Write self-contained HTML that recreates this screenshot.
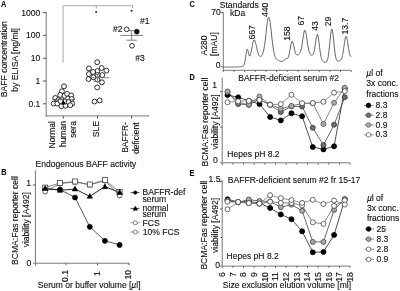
<!DOCTYPE html>
<html><head><meta charset="utf-8"><style>
html,body{margin:0;padding:0;background:#fff;}
svg{display:block;font-family:"Liberation Sans", sans-serif;filter:blur(0.3px);}
text{stroke:#111;stroke-width:0.12px;}
</style></head><body>
<svg width="400" height="291" viewBox="0 0 400 291">
<rect width="400" height="291" fill="#fff"/>
<text transform="translate(1.0,6.8) scale(0.88,1)" font-size="8.3" font-weight="bold" fill="#111">A</text>
<line x1="63.1" y1="5.7" x2="63.1" y2="62.5" stroke="#a0a0a0" stroke-width="0.9"/>
<line x1="63.1" y1="5.7" x2="132.5" y2="5.7" stroke="#a0a0a0" stroke-width="0.9"/>
<line x1="96.3" y1="5.7" x2="96.3" y2="8.5" stroke="#a0a0a0" stroke-width="0.9"/>
<line x1="132.5" y1="5.7" x2="132.5" y2="8" stroke="#a0a0a0" stroke-width="0.9"/>
<circle cx="96.1" cy="12" r="1.0" fill="#222" stroke="none" stroke-width="0"/>
<circle cx="131.5" cy="10.8" r="1.0" fill="#222" stroke="none" stroke-width="0"/>
<line x1="46.2" y1="12.2" x2="46.2" y2="116.5" stroke="#787878" stroke-width="1.0"/>
<line x1="45.7" y1="115.9" x2="149" y2="115.9" stroke="#787878" stroke-width="1.0"/>
<line x1="42.9" y1="12.6" x2="46.2" y2="12.6" stroke="#444" stroke-width="0.9"/>
<text x="40.4" y="15.6" font-size="8.6" text-anchor="end" font-weight="normal" fill="#111" >1000</text>
<line x1="42.9" y1="35.4" x2="46.2" y2="35.4" stroke="#444" stroke-width="0.9"/>
<text x="40.4" y="38.4" font-size="8.6" text-anchor="end" font-weight="normal" fill="#111" >100</text>
<line x1="42.9" y1="58.2" x2="46.2" y2="58.2" stroke="#444" stroke-width="0.9"/>
<text x="40.4" y="61.2" font-size="8.6" text-anchor="end" font-weight="normal" fill="#111" >10</text>
<line x1="42.9" y1="81.0" x2="46.2" y2="81.0" stroke="#444" stroke-width="0.9"/>
<text x="40.4" y="84.0" font-size="8.6" text-anchor="end" font-weight="normal" fill="#111" >1</text>
<line x1="42.9" y1="103.8" x2="46.2" y2="103.8" stroke="#444" stroke-width="0.9"/>
<text x="40.4" y="106.8" font-size="8.6" text-anchor="end" font-weight="normal" fill="#111" >0.1</text>
<line x1="63.3" y1="115.9" x2="63.3" y2="118.7" stroke="#444" stroke-width="0.9"/>
<line x1="97.4" y1="115.9" x2="97.4" y2="118.7" stroke="#444" stroke-width="0.9"/>
<line x1="131.6" y1="115.9" x2="131.6" y2="118.7" stroke="#444" stroke-width="0.9"/>
<text transform="translate(7.3,59.2) rotate(-90)" font-size="8.65" text-anchor="middle" font-weight="normal" fill="#111" >BAFF concentration</text>
<text transform="translate(18.4,59.9) rotate(-90)" font-size="8.65" text-anchor="middle" font-weight="normal" fill="#111" >by ELISA [ng/ml]</text>
<text transform="translate(54.6,121.1) rotate(-90)" font-size="8.5" text-anchor="end" font-weight="normal" fill="#111" >Normal</text>
<text transform="translate(65.6,121.1) rotate(-90)" font-size="8.5" text-anchor="end" font-weight="normal" fill="#111" >human</text>
<text transform="translate(76.2,121.1) rotate(-90)" font-size="8.5" text-anchor="end" font-weight="normal" fill="#111" >sera</text>
<text transform="translate(99.3,121.1) rotate(-90)" font-size="8.5" text-anchor="end" font-weight="normal" fill="#111" >SLE</text>
<text transform="translate(127.6,122.1) rotate(-90)" font-size="8.5" text-anchor="end" font-weight="normal" fill="#111" >BAFFR-</text>
<text transform="translate(138.6,122.3) rotate(-90)" font-size="8.5" text-anchor="end" font-weight="normal" fill="#111" >deficient</text>
<circle cx="64" cy="86.3" r="2.45" fill="#fff" stroke="#1a1a1a" stroke-width="0.9"/>
<circle cx="61.9" cy="91.3" r="2.45" fill="#fff" stroke="#1a1a1a" stroke-width="0.9"/>
<circle cx="60.2" cy="94.9" r="2.45" fill="#fff" stroke="#1a1a1a" stroke-width="0.9"/>
<circle cx="64.5" cy="95.9" r="2.45" fill="#fff" stroke="#1a1a1a" stroke-width="0.9"/>
<circle cx="67.1" cy="93.9" r="2.45" fill="#fff" stroke="#1a1a1a" stroke-width="0.9"/>
<circle cx="71.2" cy="95.4" r="2.45" fill="#fff" stroke="#1a1a1a" stroke-width="0.9"/>
<circle cx="55.2" cy="98" r="2.45" fill="#fff" stroke="#1a1a1a" stroke-width="0.9"/>
<circle cx="58.3" cy="100" r="2.45" fill="#fff" stroke="#1a1a1a" stroke-width="0.9"/>
<circle cx="68.1" cy="98.5" r="2.45" fill="#fff" stroke="#1a1a1a" stroke-width="0.9"/>
<circle cx="71.7" cy="99" r="2.45" fill="#fff" stroke="#1a1a1a" stroke-width="0.9"/>
<circle cx="53.7" cy="103.6" r="2.45" fill="#fff" stroke="#1a1a1a" stroke-width="0.9"/>
<circle cx="57.3" cy="103.6" r="2.45" fill="#fff" stroke="#1a1a1a" stroke-width="0.9"/>
<circle cx="61.4" cy="106.2" r="2.45" fill="#fff" stroke="#1a1a1a" stroke-width="0.9"/>
<circle cx="65.5" cy="105.7" r="2.45" fill="#fff" stroke="#1a1a1a" stroke-width="0.9"/>
<circle cx="68.6" cy="102.1" r="2.45" fill="#fff" stroke="#1a1a1a" stroke-width="0.9"/>
<circle cx="72.2" cy="103.6" r="2.45" fill="#fff" stroke="#1a1a1a" stroke-width="0.9"/>
<circle cx="70.2" cy="105.2" r="2.45" fill="#fff" stroke="#1a1a1a" stroke-width="0.9"/>
<circle cx="60.5" cy="101" r="2.45" fill="#fff" stroke="#1a1a1a" stroke-width="0.9"/>
<circle cx="97.2" cy="62.2" r="2.45" fill="#fff" stroke="#1a1a1a" stroke-width="0.9"/>
<circle cx="88.9" cy="68.4" r="2.45" fill="#fff" stroke="#1a1a1a" stroke-width="0.9"/>
<circle cx="97.4" cy="71.1" r="2.45" fill="#fff" stroke="#1a1a1a" stroke-width="0.9"/>
<circle cx="101.7" cy="68" r="2.45" fill="#fff" stroke="#1a1a1a" stroke-width="0.9"/>
<circle cx="106.4" cy="70.6" r="2.45" fill="#fff" stroke="#1a1a1a" stroke-width="0.9"/>
<circle cx="88.9" cy="74" r="2.45" fill="#fff" stroke="#1a1a1a" stroke-width="0.9"/>
<circle cx="93" cy="72" r="2.45" fill="#fff" stroke="#1a1a1a" stroke-width="0.9"/>
<circle cx="97.4" cy="75.1" r="2.45" fill="#fff" stroke="#1a1a1a" stroke-width="0.9"/>
<circle cx="102.3" cy="75.1" r="2.45" fill="#fff" stroke="#1a1a1a" stroke-width="0.9"/>
<circle cx="88.5" cy="79.1" r="2.45" fill="#fff" stroke="#1a1a1a" stroke-width="0.9"/>
<circle cx="93.4" cy="77.3" r="2.45" fill="#fff" stroke="#1a1a1a" stroke-width="0.9"/>
<circle cx="97.4" cy="79.6" r="2.45" fill="#fff" stroke="#1a1a1a" stroke-width="0.9"/>
<circle cx="101.9" cy="82.3" r="2.45" fill="#fff" stroke="#1a1a1a" stroke-width="0.9"/>
<circle cx="97.2" cy="87.4" r="2.45" fill="#fff" stroke="#1a1a1a" stroke-width="0.9"/>
<circle cx="94.5" cy="101.5" r="2.45" fill="#fff" stroke="#1a1a1a" stroke-width="0.9"/>
<circle cx="99.7" cy="100.4" r="2.45" fill="#fff" stroke="#1a1a1a" stroke-width="0.9"/>
<line x1="52.5" y1="99.6" x2="75" y2="99.6" stroke="#666" stroke-width="0.9"/>
<line x1="63.5" y1="97.5" x2="63.5" y2="104.5" stroke="#444" stroke-width="0.9"/>
<polygon points="63.6,100.3 61.4,104.4 65.8,104.4" fill="#000"/>
<line x1="91" y1="77.8" x2="109.5" y2="77.8" stroke="#777" stroke-width="0.9"/>
<line x1="97.4" y1="74.5" x2="97.4" y2="81.5" stroke="#777" stroke-width="0.9"/>
<line x1="94" y1="74.5" x2="101" y2="74.5" stroke="#777" stroke-width="0.9"/>
<line x1="94" y1="81.5" x2="101" y2="81.5" stroke="#777" stroke-width="0.9"/>
<line x1="120.3" y1="35.4" x2="143" y2="35.4" stroke="#777" stroke-width="0.9"/>
<line x1="131.6" y1="30.6" x2="131.6" y2="40.2" stroke="#777" stroke-width="0.9"/>
<line x1="129" y1="30.6" x2="134.5" y2="30.6" stroke="#777" stroke-width="0.9"/>
<line x1="126.5" y1="40.2" x2="136.8" y2="40.2" stroke="#777" stroke-width="0.9"/>
<circle cx="126.7" cy="29.3" r="2.35" fill="#fff" stroke="#1a1a1a" stroke-width="0.9"/>
<circle cx="136.8" cy="31.7" r="2.4" fill="#000" stroke="#000" stroke-width="0.7"/>
<circle cx="132" cy="45.8" r="2.35" fill="#fff" stroke="#1a1a1a" stroke-width="0.9"/>
<text x="140.1" y="23.7" font-size="8.6" text-anchor="start" font-weight="normal" fill="#111" >#1</text>
<text x="112.9" y="31.6" font-size="8.6" text-anchor="start" font-weight="normal" fill="#111" >#2</text>
<text x="135.3" y="61" font-size="8.6" text-anchor="start" font-weight="normal" fill="#111" >#3</text>
<text transform="translate(1.2,175.1) scale(0.88,1)" font-size="8.3" font-weight="bold" fill="#111">B</text>
<text x="35.6" y="166.6" font-size="8.55" text-anchor="start" font-weight="normal" fill="#111" >Endogenous BAFF activity</text>
<line x1="35.4" y1="170.5" x2="35.4" y2="265.7" stroke="#787878" stroke-width="1.0"/>
<line x1="33" y1="263.2" x2="129" y2="263.2" stroke="#787878" stroke-width="1.0"/>
<line x1="32.9" y1="185" x2="35.4" y2="185" stroke="#444" stroke-width="0.9"/>
<text x="31" y="186.4" font-size="8.6" text-anchor="end" font-weight="normal" fill="#111" >1</text>
<text x="31.4" y="266.1" font-size="8.6" text-anchor="end" font-weight="normal" fill="#111" >0</text>
<line x1="66" y1="263.2" x2="66" y2="265.2" stroke="#444" stroke-width="0.9"/>
<text transform="translate(68.4,270.0) rotate(-90)" font-size="8.6" text-anchor="end" font-weight="normal" fill="#111" >0.1</text>
<line x1="97.5" y1="263.2" x2="97.5" y2="265.2" stroke="#444" stroke-width="0.9"/>
<text transform="translate(99.9,271.3) rotate(-90)" font-size="8.6" text-anchor="end" font-weight="normal" fill="#111" >1</text>
<line x1="129" y1="263.2" x2="129" y2="265.2" stroke="#444" stroke-width="0.9"/>
<text transform="translate(131.4,270.0) rotate(-90)" font-size="8.6" text-anchor="end" font-weight="normal" fill="#111" >10</text>
<text transform="translate(17.8,220.5) rotate(-90)" font-size="8.55" text-anchor="middle" font-weight="normal" fill="#111" >BCMA:Fas reporter cell</text>
<text transform="translate(28.6,219.8) rotate(-90)" font-size="8.55" text-anchor="middle" font-weight="normal" fill="#111" >viability [A492]</text>
<text x="37.8" y="288.3" font-size="8.53" text-anchor="start" font-weight="normal" fill="#111" >Serum or buffer volume [<tspan font-style="italic">µ</tspan>l]</text>
<polyline points="45.2,189 60,189.6 75,197.5 89.8,226.8 104.9,240.8 119.6,244.9" fill="none" stroke="#333" stroke-width="0.8"/>
<polyline points="45.2,191.6 60,183.6 75,182.0 89.8,184.8 104.9,180.6 119.6,195.5" fill="none" stroke="#666" stroke-width="0.8"/>
<polyline points="45.2,187.6 60,182.9 75,181.5 89.8,184.5 104.9,180.1 119.6,192" fill="none" stroke="#666" stroke-width="0.8"/>
<polyline points="45.2,188.4 60,190.3 75,189 89.8,196.3 104.9,186.7 119.6,192.3" fill="none" stroke="#111" stroke-width="0.9"/>
<circle cx="45.2" cy="189" r="2.6" fill="#000" stroke="#000" stroke-width="0.5"/>
<circle cx="60" cy="189.6" r="2.6" fill="#000" stroke="#000" stroke-width="0.5"/>
<circle cx="75" cy="197.5" r="2.6" fill="#000" stroke="#000" stroke-width="0.5"/>
<circle cx="89.8" cy="226.8" r="2.6" fill="#000" stroke="#000" stroke-width="0.5"/>
<circle cx="104.9" cy="240.8" r="2.6" fill="#000" stroke="#000" stroke-width="0.5"/>
<circle cx="119.6" cy="244.9" r="2.6" fill="#000" stroke="#000" stroke-width="0.5"/>
<circle cx="45.2" cy="191.6" r="2.4" fill="#fff" stroke="#333" stroke-width="0.8"/>
<circle cx="60" cy="183.6" r="2.4" fill="#fff" stroke="#333" stroke-width="0.8"/>
<circle cx="75" cy="182.0" r="2.4" fill="#fff" stroke="#333" stroke-width="0.8"/>
<circle cx="89.8" cy="184.8" r="2.4" fill="#fff" stroke="#333" stroke-width="0.8"/>
<circle cx="104.9" cy="180.6" r="2.4" fill="#fff" stroke="#333" stroke-width="0.8"/>
<circle cx="119.6" cy="195.5" r="2.4" fill="#fff" stroke="#333" stroke-width="0.8"/>
<rect x="42.7" y="185.1" width="5" height="5" fill="#fff" stroke="#444" stroke-width="0.8"/>
<rect x="57.5" y="180.4" width="5" height="5" fill="#fff" stroke="#444" stroke-width="0.8"/>
<rect x="72.5" y="179.0" width="5" height="5" fill="#fff" stroke="#444" stroke-width="0.8"/>
<rect x="87.3" y="182.0" width="5" height="5" fill="#fff" stroke="#444" stroke-width="0.8"/>
<rect x="102.4" y="177.6" width="5" height="5" fill="#fff" stroke="#444" stroke-width="0.8"/>
<rect x="117.1" y="189.5" width="5" height="5" fill="#fff" stroke="#444" stroke-width="0.8"/>
<polygon points="45.2,185.4768 42.400000000000006,190.3488 48.0,190.3488" fill="#000" stroke="#000" stroke-width="0.5"/>
<polygon points="60,187.3768 57.2,192.24880000000002 62.8,192.24880000000002" fill="#000" stroke="#000" stroke-width="0.5"/>
<polygon points="75,186.0768 72.2,190.9488 77.8,190.9488" fill="#000" stroke="#000" stroke-width="0.5"/>
<polygon points="89.8,193.3768 87.0,198.24880000000002 92.6,198.24880000000002" fill="#000" stroke="#000" stroke-width="0.5"/>
<polygon points="104.9,183.77679999999998 102.10000000000001,188.6488 107.7,188.6488" fill="#000" stroke="#000" stroke-width="0.5"/>
<polygon points="119.6,189.3768 116.8,194.24880000000002 122.39999999999999,194.24880000000002" fill="#000" stroke="#000" stroke-width="0.5"/>
<line x1="130.5" y1="192.6" x2="139.5" y2="192.6" stroke="#222" stroke-width="0.8"/>
<circle cx="135.3" cy="192.6" r="1.8" fill="#000" stroke="#000" stroke-width="0.4"/>
<line x1="130.5" y1="208.4" x2="139.5" y2="208.4" stroke="#222" stroke-width="0.8"/>
<polygon points="135.3,206.1988 133.0,210.2008 137.60000000000002,210.2008" fill="#000" stroke="#000" stroke-width="0.5"/>
<line x1="130.5" y1="222.8" x2="139.5" y2="222.8" stroke="#777" stroke-width="0.8"/>
<circle cx="135.3" cy="222.8" r="2.0" fill="#fff" stroke="#555" stroke-width="0.7"/>
<line x1="130.5" y1="232.0" x2="139.5" y2="232.0" stroke="#777" stroke-width="0.8"/>
<circle cx="135.3" cy="232.0" r="2.0" fill="#fff" stroke="#555" stroke-width="0.7"/>
<text x="142.6" y="195.4" font-size="8.55" text-anchor="start" font-weight="normal" fill="#111" >BAFFR-def</text>
<text x="142.4" y="201.6" font-size="8.55" text-anchor="start" font-weight="normal" fill="#111" >serum</text>
<text x="142.4" y="210.8" font-size="8.55" text-anchor="start" font-weight="normal" fill="#111" >normal</text>
<text x="142.4" y="216.6" font-size="8.55" text-anchor="start" font-weight="normal" fill="#111" >serum</text>
<text x="142.6" y="226.4" font-size="8.55" text-anchor="start" font-weight="normal" fill="#111" >FCS</text>
<text x="142.8" y="234.8" font-size="8.55" text-anchor="start" font-weight="normal" fill="#111" >10% FCS</text>
<text transform="translate(189.5,7.0) scale(0.88,1)" font-size="8.3" font-weight="bold" fill="#111">C</text>
<text x="219.8" y="7.8" font-size="8.55" text-anchor="start" font-weight="normal" fill="#111" >Standards</text>
<text x="230" y="16" font-size="8.55" text-anchor="start" font-weight="normal" fill="#111" >kDa</text>
<line x1="223.3" y1="12.6" x2="223.3" y2="70.8" stroke="#787878" stroke-width="1.0"/>
<line x1="220.9" y1="12.6" x2="223.3" y2="12.6" stroke="#444" stroke-width="0.9"/>
<line x1="221.2" y1="66.8" x2="223.3" y2="66.8" stroke="#444" stroke-width="0.9"/>
<text x="220.8" y="15.3" font-size="8.6" text-anchor="end" font-weight="normal" fill="#111" >70</text>
<text x="220.5" y="68.0" font-size="8.6" text-anchor="end" font-weight="normal" fill="#111" >0</text>
<line x1="223.3" y1="70.3" x2="351.2" y2="70.3" stroke="#787878" stroke-width="1.0"/>
<line x1="223.3" y1="70.3" x2="223.3" y2="71.9" stroke="#444" stroke-width="0.8"/>
<line x1="233.95833333333334" y1="70.3" x2="233.95833333333334" y2="71.9" stroke="#444" stroke-width="0.8"/>
<line x1="244.61666666666667" y1="70.3" x2="244.61666666666667" y2="71.9" stroke="#444" stroke-width="0.8"/>
<line x1="255.275" y1="70.3" x2="255.275" y2="71.9" stroke="#444" stroke-width="0.8"/>
<line x1="265.93333333333334" y1="70.3" x2="265.93333333333334" y2="71.9" stroke="#444" stroke-width="0.8"/>
<line x1="276.5916666666667" y1="70.3" x2="276.5916666666667" y2="71.9" stroke="#444" stroke-width="0.8"/>
<line x1="287.25" y1="70.3" x2="287.25" y2="71.9" stroke="#444" stroke-width="0.8"/>
<line x1="297.9083333333333" y1="70.3" x2="297.9083333333333" y2="71.9" stroke="#444" stroke-width="0.8"/>
<line x1="308.56666666666666" y1="70.3" x2="308.56666666666666" y2="71.9" stroke="#444" stroke-width="0.8"/>
<line x1="319.225" y1="70.3" x2="319.225" y2="71.9" stroke="#444" stroke-width="0.8"/>
<line x1="329.8833333333333" y1="70.3" x2="329.8833333333333" y2="71.9" stroke="#444" stroke-width="0.8"/>
<line x1="340.54166666666663" y1="70.3" x2="340.54166666666663" y2="71.9" stroke="#444" stroke-width="0.8"/>
<line x1="351.2" y1="70.3" x2="351.2" y2="71.9" stroke="#444" stroke-width="0.8"/>
<text transform="translate(207,45.5) rotate(-90)" font-size="8.55" text-anchor="middle" font-weight="normal" fill="#111" >A280</text>
<text transform="translate(216.5,44) rotate(-90)" font-size="8.55" text-anchor="middle" font-weight="normal" fill="#111" >[mAU]</text>
<path d="M223.5,67.1 L224.0,67.1 L224.5,67.1 L225.0,67.1 L225.5,67.1 L226.0,67.1 L226.5,67.1 L227.0,67.1 L227.5,67.1 L228.0,67.09 L228.5,67.09 L229.0,67.09 L229.5,67.09 L230.0,67.09 L230.5,67.09 L231.0,67.08 L231.5,67.08 L232.0,67.08 L232.5,67.07 L233.0,67.07 L233.5,67.06 L234.0,67.05 L234.5,67.04 L235.0,67.03 L235.5,67.02 L236.0,67.01 L236.5,66.99 L237.0,66.97 L237.5,66.95 L238.0,66.93 L238.5,66.9 L239.0,66.87 L239.5,66.84 L240.0,66.8 L240.5,66.75 L241.0,66.7 L241.5,66.64 L242.0,66.57 L242.5,66.45 L243.0,66.24 L243.5,65.83 L244.0,65.02 L244.5,63.56 L245.0,61.27 L245.5,58.15 L246.0,54.63 L246.5,51.48 L247.0,49.54 L247.5,49.31 L248.0,50.66 L248.5,52.83 L249.0,54.87 L249.5,56.01 L250.0,55.92 L250.5,54.66 L251.0,52.53 L251.5,49.89 L252.0,47.09 L252.5,44.44 L253.0,42.23 L253.5,40.67 L254.0,39.91 L254.5,40.0 L255.0,40.89 L255.5,42.45 L256.0,44.48 L256.5,46.73 L257.0,49.0 L257.5,51.1 L258.0,52.89 L258.5,54.32 L259.0,55.36 L259.5,56.04 L260.0,56.39 L260.5,56.47 L261.0,56.3 L261.5,55.89 L262.0,55.22 L262.5,54.23 L263.0,52.86 L263.5,51.01 L264.0,48.62 L264.5,45.64 L265.0,42.07 L265.5,38.0 L266.0,33.59 L266.5,29.11 L267.0,24.89 L267.5,21.28 L268.0,18.64 L268.5,17.24 L269.0,17.23 L269.5,18.62 L270.0,21.29 L270.5,24.97 L271.0,29.34 L271.5,34.02 L272.0,38.67 L272.5,43.01 L273.0,46.86 L273.5,50.12 L274.0,52.76 L274.5,54.82 L275.0,56.39 L275.5,57.57 L276.0,58.43 L276.5,59.08 L277.0,59.57 L277.5,59.95 L278.0,60.26 L278.5,60.52 L279.0,60.74 L279.5,60.93 L280.0,61.1 L280.5,61.23 L281.0,61.34 L281.5,61.4 L282.0,61.39 L282.5,61.3 L283.0,61.1 L283.5,60.78 L284.0,60.35 L284.5,59.86 L285.0,59.39 L285.5,59.01 L286.0,58.77 L286.5,58.65 L287.0,58.56 L287.5,58.34 L288.0,57.79 L288.5,56.74 L289.0,55.06 L289.5,52.76 L290.0,49.99 L290.5,47.04 L291.0,44.33 L291.5,42.3 L292.0,41.27 L292.5,41.41 L293.0,42.63 L293.5,44.64 L294.0,47.04 L294.5,49.42 L295.0,51.48 L295.5,53.05 L296.0,54.1 L296.5,54.71 L297.0,54.96 L297.5,54.98 L298.0,54.84 L298.5,54.57 L299.0,54.18 L299.5,53.63 L300.0,52.83 L300.5,51.66 L301.0,50.03 L301.5,47.84 L302.0,45.07 L302.5,41.84 L303.0,38.39 L303.5,35.09 L304.0,32.37 L304.5,30.65 L305.0,30.22 L305.5,31.15 L306.0,33.28 L306.5,36.29 L307.0,39.75 L307.5,43.22 L308.0,46.38 L308.5,49.01 L309.0,51.07 L309.5,52.58 L310.0,53.65 L310.5,54.39 L311.0,54.88 L311.5,55.17 L312.0,55.27 L312.5,55.11 L313.0,54.58 L313.5,53.52 L314.0,51.82 L314.5,49.39 L315.0,46.29 L315.5,42.78 L316.0,39.31 L316.5,36.42 L317.0,34.68 L317.5,34.46 L318.0,35.87 L318.5,38.69 L319.0,42.44 L319.5,46.57 L320.0,50.53 L320.5,53.95 L321.0,56.66 L321.5,58.63 L322.0,59.99 L322.5,60.88 L323.0,61.45 L323.5,61.81 L324.0,62.06 L324.5,62.23 L325.0,62.32 L325.5,62.33 L326.0,62.2 L326.5,61.83 L327.0,61.09 L327.5,59.78 L328.0,57.72 L328.5,54.73 L329.0,50.78 L329.5,46.02 L330.0,40.84 L330.5,35.87 L331.0,31.83 L331.5,29.41 L332.0,29.03 L332.5,30.76 L333.0,34.26 L333.5,38.92 L334.0,44.0 L334.5,48.84 L335.0,52.96 L335.5,56.15 L336.0,58.4 L336.5,59.84 L337.0,60.66 L337.5,61.06 L338.0,61.2 L338.5,61.19 L339.0,61.07 L339.5,60.89 L340.0,60.63 L340.5,60.24 L341.0,59.64 L341.5,58.74 L342.0,57.37 L342.5,55.44 L343.0,52.85 L343.5,49.67 L344.0,46.09 L344.5,42.48 L345.0,39.34 L345.5,37.16 L346.0,36.3 L346.5,36.9 L347.0,38.81 L347.5,41.67 L348.0,44.99 L348.5,48.27 L349.0,51.15 L349.5,53.43 L350.0,55.08 L350.5,56.15 L351.0,56.79" fill="none" stroke="#555" stroke-width="0.9"/>
<text transform="translate(254.5,39.5) rotate(-90)" font-size="8.6" text-anchor="start" font-weight="normal" fill="#111" >667</text>
<text transform="translate(267.6,17.0) rotate(-90)" font-size="8.6" text-anchor="start" font-weight="normal" fill="#111" >440</text>
<text transform="translate(290.0,40.7) rotate(-90)" font-size="8.6" text-anchor="start" font-weight="normal" fill="#111" >158</text>
<text transform="translate(303.5,25.5) rotate(-90)" font-size="8.6" text-anchor="start" font-weight="normal" fill="#111" >67</text>
<text transform="translate(318.0,30.8) rotate(-90)" font-size="8.6" text-anchor="start" font-weight="normal" fill="#111" >43</text>
<text transform="translate(330.6,26.2) rotate(-90)" font-size="8.6" text-anchor="start" font-weight="normal" fill="#111" >29</text>
<text transform="translate(347.8,34.5) rotate(-90)" font-size="8.6" text-anchor="start" font-weight="normal" fill="#111" >13.7</text>
<text transform="translate(189.6,80.1) scale(0.88,1)" font-size="8.3" font-weight="bold" fill="#111">D</text>
<text x="238.2" y="81.3" font-size="8.55" text-anchor="start" font-weight="normal" fill="#111" >BAFFR-deficient serum #2</text>
<line x1="222.2" y1="77.5" x2="222.2" y2="165.4" stroke="#787878" stroke-width="1.0"/>
<line x1="220.1" y1="162.8" x2="350" y2="162.8" stroke="#787878" stroke-width="1.0"/>
<line x1="219.9" y1="91.7" x2="222.2" y2="91.7" stroke="#444" stroke-width="0.9"/>
<line x1="220.2" y1="127.2" x2="222.2" y2="127.2" stroke="#444" stroke-width="0.8"/>
<text x="217" y="88" font-size="8.6" text-anchor="end" font-weight="normal" fill="#111" >1</text>
<text x="217.8" y="163.4" font-size="8.6" text-anchor="end" font-weight="normal" fill="#111" >0</text>
<line x1="232.85999999999999" y1="162.8" x2="232.85999999999999" y2="164.6" stroke="#444" stroke-width="0.8"/>
<line x1="243.51999999999998" y1="162.8" x2="243.51999999999998" y2="164.6" stroke="#444" stroke-width="0.8"/>
<line x1="254.17999999999998" y1="162.8" x2="254.17999999999998" y2="164.6" stroke="#444" stroke-width="0.8"/>
<line x1="264.84" y1="162.8" x2="264.84" y2="164.6" stroke="#444" stroke-width="0.8"/>
<line x1="275.5" y1="162.8" x2="275.5" y2="164.6" stroke="#444" stroke-width="0.8"/>
<line x1="286.15999999999997" y1="162.8" x2="286.15999999999997" y2="164.6" stroke="#444" stroke-width="0.8"/>
<line x1="296.82" y1="162.8" x2="296.82" y2="164.6" stroke="#444" stroke-width="0.8"/>
<line x1="307.48" y1="162.8" x2="307.48" y2="164.6" stroke="#444" stroke-width="0.8"/>
<line x1="318.14" y1="162.8" x2="318.14" y2="164.6" stroke="#444" stroke-width="0.8"/>
<line x1="328.79999999999995" y1="162.8" x2="328.79999999999995" y2="164.6" stroke="#444" stroke-width="0.8"/>
<line x1="339.46" y1="162.8" x2="339.46" y2="164.6" stroke="#444" stroke-width="0.8"/>
<line x1="350.12" y1="162.8" x2="350.12" y2="164.6" stroke="#444" stroke-width="0.8"/>
<text transform="translate(207.7,122) rotate(-90)" font-size="8.55" text-anchor="middle" font-weight="normal" fill="#111" >BCMA:Fas reporter cell</text>
<text transform="translate(217.6,122) rotate(-90)" font-size="8.55" text-anchor="middle" font-weight="normal" fill="#111" >viability [A492]</text>
<text x="227.3" y="157.2" font-size="8.55" text-anchor="start" font-weight="normal" fill="#111" >Hepes pH 8.2</text>
<polyline points="227.5,95 238.16,97.3 248.82,100.8 259.48,104.1 270.14,117 280.8,120.4 291.46,113.3 302.12,116.3 312.78,147 323.44,149.4 334.1,146.3 344.76,88.5" fill="none" stroke="#222" stroke-width="0.8"/>
<polyline points="227.5,92.2 238.16,104 248.82,104.8 259.48,99.5 270.14,105 280.8,112.1 291.46,106.3 302.12,106.5 312.78,127.8 323.44,145.1 334.1,124.7 344.76,97.2" fill="none" stroke="#444" stroke-width="0.8"/>
<polyline points="227.5,91.5 238.16,102.5 248.82,104.6 259.48,96.5 270.14,104.5 280.8,108.8 291.46,105.9 302.12,103.5 312.78,103.2 323.44,124 334.1,102.8 344.76,87.7" fill="none" stroke="#666" stroke-width="0.8"/>
<polyline points="227.5,102.2 238.16,101.3 248.82,100.8 259.48,99.9 270.14,104.7 280.8,104.1 291.46,94.8 302.12,103.2 312.78,103 323.44,101.8 334.1,92.7 344.76,91.2" fill="none" stroke="#777" stroke-width="0.8"/>
<circle cx="227.5" cy="95" r="2.5" fill="#000" stroke="#000" stroke-width="0.8"/>
<circle cx="238.16" cy="97.3" r="2.5" fill="#000" stroke="#000" stroke-width="0.8"/>
<circle cx="248.82" cy="100.8" r="2.5" fill="#000" stroke="#000" stroke-width="0.8"/>
<circle cx="259.48" cy="104.1" r="2.5" fill="#000" stroke="#000" stroke-width="0.8"/>
<circle cx="270.14" cy="117" r="2.5" fill="#000" stroke="#000" stroke-width="0.8"/>
<circle cx="280.8" cy="120.4" r="2.5" fill="#000" stroke="#000" stroke-width="0.8"/>
<circle cx="291.46" cy="113.3" r="2.5" fill="#000" stroke="#000" stroke-width="0.8"/>
<circle cx="302.12" cy="116.3" r="2.5" fill="#000" stroke="#000" stroke-width="0.8"/>
<circle cx="312.78" cy="147" r="2.5" fill="#000" stroke="#000" stroke-width="0.8"/>
<circle cx="323.44" cy="149.4" r="2.5" fill="#000" stroke="#000" stroke-width="0.8"/>
<circle cx="334.1" cy="146.3" r="2.5" fill="#000" stroke="#000" stroke-width="0.8"/>
<circle cx="344.76" cy="88.5" r="2.5" fill="#000" stroke="#000" stroke-width="0.8"/>
<circle cx="227.5" cy="92.2" r="2.5" fill="#707070" stroke="#333" stroke-width="0.8"/>
<circle cx="238.16" cy="104" r="2.5" fill="#707070" stroke="#333" stroke-width="0.8"/>
<circle cx="248.82" cy="104.8" r="2.5" fill="#707070" stroke="#333" stroke-width="0.8"/>
<circle cx="259.48" cy="99.5" r="2.5" fill="#707070" stroke="#333" stroke-width="0.8"/>
<circle cx="270.14" cy="105" r="2.5" fill="#707070" stroke="#333" stroke-width="0.8"/>
<circle cx="280.8" cy="112.1" r="2.5" fill="#707070" stroke="#333" stroke-width="0.8"/>
<circle cx="291.46" cy="106.3" r="2.5" fill="#707070" stroke="#333" stroke-width="0.8"/>
<circle cx="302.12" cy="106.5" r="2.5" fill="#707070" stroke="#333" stroke-width="0.8"/>
<circle cx="312.78" cy="127.8" r="2.5" fill="#707070" stroke="#333" stroke-width="0.8"/>
<circle cx="323.44" cy="145.1" r="2.5" fill="#707070" stroke="#333" stroke-width="0.8"/>
<circle cx="334.1" cy="124.7" r="2.5" fill="#707070" stroke="#333" stroke-width="0.8"/>
<circle cx="344.76" cy="97.2" r="2.5" fill="#707070" stroke="#333" stroke-width="0.8"/>
<circle cx="227.5" cy="91.5" r="2.5" fill="#a9a9a9" stroke="#555" stroke-width="0.8"/>
<circle cx="238.16" cy="102.5" r="2.5" fill="#a9a9a9" stroke="#555" stroke-width="0.8"/>
<circle cx="248.82" cy="104.6" r="2.5" fill="#a9a9a9" stroke="#555" stroke-width="0.8"/>
<circle cx="259.48" cy="96.5" r="2.5" fill="#a9a9a9" stroke="#555" stroke-width="0.8"/>
<circle cx="270.14" cy="104.5" r="2.5" fill="#a9a9a9" stroke="#555" stroke-width="0.8"/>
<circle cx="280.8" cy="108.8" r="2.5" fill="#a9a9a9" stroke="#555" stroke-width="0.8"/>
<circle cx="291.46" cy="105.9" r="2.5" fill="#a9a9a9" stroke="#555" stroke-width="0.8"/>
<circle cx="302.12" cy="103.5" r="2.5" fill="#a9a9a9" stroke="#555" stroke-width="0.8"/>
<circle cx="312.78" cy="103.2" r="2.5" fill="#a9a9a9" stroke="#555" stroke-width="0.8"/>
<circle cx="323.44" cy="124" r="2.5" fill="#a9a9a9" stroke="#555" stroke-width="0.8"/>
<circle cx="334.1" cy="102.8" r="2.5" fill="#a9a9a9" stroke="#555" stroke-width="0.8"/>
<circle cx="344.76" cy="87.7" r="2.5" fill="#a9a9a9" stroke="#555" stroke-width="0.8"/>
<circle cx="227.5" cy="102.2" r="2.5" fill="#fff" stroke="#444" stroke-width="0.8"/>
<circle cx="238.16" cy="101.3" r="2.5" fill="#fff" stroke="#444" stroke-width="0.8"/>
<circle cx="248.82" cy="100.8" r="2.5" fill="#fff" stroke="#444" stroke-width="0.8"/>
<circle cx="259.48" cy="99.9" r="2.5" fill="#fff" stroke="#444" stroke-width="0.8"/>
<circle cx="270.14" cy="104.7" r="2.5" fill="#fff" stroke="#444" stroke-width="0.8"/>
<circle cx="280.8" cy="104.1" r="2.5" fill="#fff" stroke="#444" stroke-width="0.8"/>
<circle cx="291.46" cy="94.8" r="2.5" fill="#fff" stroke="#444" stroke-width="0.8"/>
<circle cx="302.12" cy="103.2" r="2.5" fill="#fff" stroke="#444" stroke-width="0.8"/>
<circle cx="312.78" cy="103" r="2.5" fill="#fff" stroke="#444" stroke-width="0.8"/>
<circle cx="323.44" cy="101.8" r="2.5" fill="#fff" stroke="#444" stroke-width="0.8"/>
<circle cx="334.1" cy="92.7" r="2.5" fill="#fff" stroke="#444" stroke-width="0.8"/>
<circle cx="344.76" cy="91.2" r="2.5" fill="#fff" stroke="#444" stroke-width="0.8"/>
<text x="366.3" y="76.4" font-size="8.55" text-anchor="start" font-weight="normal" fill="#111" ><tspan font-style="italic">µ</tspan>l of</text>
<text x="366.3" y="86.4" font-size="8.55" text-anchor="start" font-weight="normal" fill="#111" >3x conc.</text>
<text x="366.3" y="96.5" font-size="8.55" text-anchor="start" font-weight="normal" fill="#111" >fractions</text>
<line x1="364.3" y1="105.4" x2="373.6" y2="105.4" stroke="#666" stroke-width="0.8"/>
<circle cx="368.5" cy="105.4" r="2.3" fill="#000" stroke="#000" stroke-width="0.8"/>
<text x="375.6" y="107.9" font-size="8.55" text-anchor="start" font-weight="normal" fill="#111" >8.3</text>
<line x1="364.3" y1="115.2" x2="373.6" y2="115.2" stroke="#666" stroke-width="0.8"/>
<circle cx="368.5" cy="115.2" r="2.3" fill="#707070" stroke="#444" stroke-width="0.8"/>
<text x="375.6" y="117.7" font-size="8.55" text-anchor="start" font-weight="normal" fill="#111" >2.8</text>
<line x1="364.3" y1="125.0" x2="373.6" y2="125.0" stroke="#666" stroke-width="0.8"/>
<circle cx="368.5" cy="125.0" r="2.3" fill="#a9a9a9" stroke="#666" stroke-width="0.8"/>
<text x="375.6" y="127.5" font-size="8.55" text-anchor="start" font-weight="normal" fill="#111" >0.9</text>
<line x1="364.3" y1="134.8" x2="373.6" y2="134.8" stroke="#666" stroke-width="0.8"/>
<circle cx="368.5" cy="134.8" r="2.3" fill="#fff" stroke="#666" stroke-width="0.8"/>
<text x="375.6" y="137.3" font-size="8.55" text-anchor="start" font-weight="normal" fill="#111" >0.3</text>
<text transform="translate(189.4,175.6) scale(0.88,1)" font-size="8.3" font-weight="bold" fill="#111">E</text>
<text x="227.8" y="183.1" font-size="8.55" text-anchor="start" font-weight="normal" fill="#111" >BAFFR-deficient serum #2 fr 15-17</text>
<line x1="222.2" y1="180.5" x2="222.2" y2="268" stroke="#787878" stroke-width="1.0"/>
<line x1="220.2" y1="266.1" x2="350.2" y2="266.1" stroke="#787878" stroke-width="1.0"/>
<line x1="219.5" y1="181.3" x2="222.2" y2="181.3" stroke="#444" stroke-width="0.9"/>
<line x1="219.9" y1="209" x2="222.2" y2="209" stroke="#444" stroke-width="0.9"/>
<line x1="220.2" y1="237.4" x2="222.2" y2="237.4" stroke="#444" stroke-width="0.8"/>
<text x="220.5" y="182.2" font-size="8.6" text-anchor="end" font-weight="normal" fill="#111" >1.5</text>
<text x="220" y="268.4" font-size="8.6" text-anchor="end" font-weight="normal" fill="#111" >0</text>
<text transform="translate(225.1,272.1) rotate(-90)" font-size="8.6" text-anchor="end" font-weight="normal" fill="#111" >6</text>
<line x1="232.85999999999999" y1="266.1" x2="232.85999999999999" y2="267.8" stroke="#444" stroke-width="0.8"/>
<text transform="translate(235.76,272.1) rotate(-90)" font-size="8.6" text-anchor="end" font-weight="normal" fill="#111" >7</text>
<line x1="243.51999999999998" y1="266.1" x2="243.51999999999998" y2="267.8" stroke="#444" stroke-width="0.8"/>
<text transform="translate(246.42,272.1) rotate(-90)" font-size="8.6" text-anchor="end" font-weight="normal" fill="#111" >8</text>
<line x1="254.17999999999998" y1="266.1" x2="254.17999999999998" y2="267.8" stroke="#444" stroke-width="0.8"/>
<text transform="translate(257.08,272.1) rotate(-90)" font-size="8.6" text-anchor="end" font-weight="normal" fill="#111" >9</text>
<line x1="264.84" y1="266.1" x2="264.84" y2="267.8" stroke="#444" stroke-width="0.8"/>
<text transform="translate(267.73999999999995,272.1) rotate(-90)" font-size="8.6" text-anchor="end" font-weight="normal" fill="#111" >10</text>
<line x1="275.5" y1="266.1" x2="275.5" y2="267.8" stroke="#444" stroke-width="0.8"/>
<text transform="translate(278.4,272.1) rotate(-90)" font-size="8.6" text-anchor="end" font-weight="normal" fill="#111" >11</text>
<line x1="286.15999999999997" y1="266.1" x2="286.15999999999997" y2="267.8" stroke="#444" stroke-width="0.8"/>
<text transform="translate(289.05999999999995,272.1) rotate(-90)" font-size="8.6" text-anchor="end" font-weight="normal" fill="#111" >12</text>
<line x1="296.82" y1="266.1" x2="296.82" y2="267.8" stroke="#444" stroke-width="0.8"/>
<text transform="translate(299.71999999999997,272.1) rotate(-90)" font-size="8.6" text-anchor="end" font-weight="normal" fill="#111" >13</text>
<line x1="307.48" y1="266.1" x2="307.48" y2="267.8" stroke="#444" stroke-width="0.8"/>
<text transform="translate(310.38,272.1) rotate(-90)" font-size="8.6" text-anchor="end" font-weight="normal" fill="#111" >14</text>
<line x1="318.14" y1="266.1" x2="318.14" y2="267.8" stroke="#444" stroke-width="0.8"/>
<text transform="translate(321.03999999999996,272.1) rotate(-90)" font-size="8.6" text-anchor="end" font-weight="normal" fill="#111" >15</text>
<line x1="328.79999999999995" y1="266.1" x2="328.79999999999995" y2="267.8" stroke="#444" stroke-width="0.8"/>
<text transform="translate(331.69999999999993,272.1) rotate(-90)" font-size="8.6" text-anchor="end" font-weight="normal" fill="#111" >16</text>
<line x1="339.46" y1="266.1" x2="339.46" y2="267.8" stroke="#444" stroke-width="0.8"/>
<text transform="translate(342.35999999999996,272.1) rotate(-90)" font-size="8.6" text-anchor="end" font-weight="normal" fill="#111" >17</text>
<line x1="350.12" y1="266.1" x2="350.12" y2="267.8" stroke="#444" stroke-width="0.8"/>
<text transform="translate(353.02,272.1) rotate(-90)" font-size="8.6" text-anchor="end" font-weight="normal" fill="#111" >18</text>
<text transform="translate(207.2,225.2) rotate(-90)" font-size="8.55" text-anchor="middle" font-weight="normal" fill="#111" >BCMA:Fas reporter cell</text>
<text transform="translate(218.0,225.5) rotate(-90)" font-size="8.55" text-anchor="middle" font-weight="normal" fill="#111" >viability [A492]</text>
<text x="226.5" y="259.4" font-size="8.55" text-anchor="start" font-weight="normal" fill="#111" >Hepes pH 8.2</text>
<text x="222.8" y="288.4" font-size="8.55" text-anchor="start" font-weight="normal" fill="#111" >Size exclusion elution volume [ml]</text>
<polyline points="227.5,199.3 238.16,202 248.82,201.5 259.48,203 270.14,208 280.8,214.4 291.46,219.2 302.12,231.3 312.78,252.3 323.44,251.9 334.1,234.9 344.76,199.5" fill="none" stroke="#222" stroke-width="0.8"/>
<polyline points="227.5,200.5 238.16,202.3 248.82,199.6 259.48,201 270.14,201.5 280.8,207.2 291.46,204.6 302.12,210.8 312.78,241.9 323.44,241.9 334.1,209.9 344.76,198.9" fill="none" stroke="#444" stroke-width="0.8"/>
<polyline points="227.5,201.8 238.16,202.1 248.82,203.2 259.48,203.8 270.14,201.7 280.8,202.9 291.46,203 302.12,205.5 312.78,222.3 323.44,223.9 334.1,205.9 344.76,200.5" fill="none" stroke="#666" stroke-width="0.8"/>
<polyline points="227.5,209.3 238.16,202 248.82,203 259.48,203.5 270.14,195.2 280.8,198.2 291.46,200 302.12,202.9 312.78,199.8 323.44,204 334.1,200.5 344.76,204.5" fill="none" stroke="#777" stroke-width="0.8"/>
<circle cx="227.5" cy="199.3" r="2.5" fill="#000" stroke="#000" stroke-width="0.8"/>
<circle cx="238.16" cy="202" r="2.5" fill="#000" stroke="#000" stroke-width="0.8"/>
<circle cx="248.82" cy="201.5" r="2.5" fill="#000" stroke="#000" stroke-width="0.8"/>
<circle cx="259.48" cy="203" r="2.5" fill="#000" stroke="#000" stroke-width="0.8"/>
<circle cx="270.14" cy="208" r="2.5" fill="#000" stroke="#000" stroke-width="0.8"/>
<circle cx="280.8" cy="214.4" r="2.5" fill="#000" stroke="#000" stroke-width="0.8"/>
<circle cx="291.46" cy="219.2" r="2.5" fill="#000" stroke="#000" stroke-width="0.8"/>
<circle cx="302.12" cy="231.3" r="2.5" fill="#000" stroke="#000" stroke-width="0.8"/>
<circle cx="312.78" cy="252.3" r="2.5" fill="#000" stroke="#000" stroke-width="0.8"/>
<circle cx="323.44" cy="251.9" r="2.5" fill="#000" stroke="#000" stroke-width="0.8"/>
<circle cx="334.1" cy="234.9" r="2.5" fill="#000" stroke="#000" stroke-width="0.8"/>
<circle cx="344.76" cy="199.5" r="2.5" fill="#000" stroke="#000" stroke-width="0.8"/>
<circle cx="227.5" cy="200.5" r="2.5" fill="#a9a9a9" stroke="#444" stroke-width="0.8"/>
<circle cx="238.16" cy="202.3" r="2.5" fill="#a9a9a9" stroke="#444" stroke-width="0.8"/>
<circle cx="248.82" cy="199.6" r="2.5" fill="#a9a9a9" stroke="#444" stroke-width="0.8"/>
<circle cx="259.48" cy="201" r="2.5" fill="#a9a9a9" stroke="#444" stroke-width="0.8"/>
<circle cx="270.14" cy="201.5" r="2.5" fill="#a9a9a9" stroke="#444" stroke-width="0.8"/>
<circle cx="280.8" cy="207.2" r="2.5" fill="#a9a9a9" stroke="#444" stroke-width="0.8"/>
<circle cx="291.46" cy="204.6" r="2.5" fill="#a9a9a9" stroke="#444" stroke-width="0.8"/>
<circle cx="302.12" cy="210.8" r="2.5" fill="#a9a9a9" stroke="#444" stroke-width="0.8"/>
<circle cx="312.78" cy="241.9" r="2.5" fill="#a9a9a9" stroke="#444" stroke-width="0.8"/>
<circle cx="323.44" cy="241.9" r="2.5" fill="#a9a9a9" stroke="#444" stroke-width="0.8"/>
<circle cx="334.1" cy="209.9" r="2.5" fill="#a9a9a9" stroke="#444" stroke-width="0.8"/>
<circle cx="344.76" cy="198.9" r="2.5" fill="#a9a9a9" stroke="#444" stroke-width="0.8"/>
<circle cx="227.5" cy="201.8" r="2.5" fill="#fff" stroke="#444" stroke-width="0.8"/>
<circle cx="238.16" cy="202.1" r="2.5" fill="#fff" stroke="#444" stroke-width="0.8"/>
<circle cx="248.82" cy="203.2" r="2.5" fill="#fff" stroke="#444" stroke-width="0.8"/>
<circle cx="259.48" cy="203.8" r="2.5" fill="#fff" stroke="#444" stroke-width="0.8"/>
<circle cx="270.14" cy="201.7" r="2.5" fill="#fff" stroke="#444" stroke-width="0.8"/>
<circle cx="280.8" cy="202.9" r="2.5" fill="#fff" stroke="#444" stroke-width="0.8"/>
<circle cx="291.46" cy="203" r="2.5" fill="#fff" stroke="#444" stroke-width="0.8"/>
<circle cx="302.12" cy="205.5" r="2.5" fill="#fff" stroke="#444" stroke-width="0.8"/>
<circle cx="312.78" cy="222.3" r="2.5" fill="#fff" stroke="#444" stroke-width="0.8"/>
<circle cx="323.44" cy="223.9" r="2.5" fill="#fff" stroke="#444" stroke-width="0.8"/>
<circle cx="334.1" cy="205.9" r="2.5" fill="#fff" stroke="#444" stroke-width="0.8"/>
<circle cx="344.76" cy="200.5" r="2.5" fill="#fff" stroke="#444" stroke-width="0.8"/>
<circle cx="227.5" cy="209.3" r="2.5" fill="#fff" stroke="#444" stroke-width="0.8"/>
<circle cx="238.16" cy="202" r="2.5" fill="#fff" stroke="#444" stroke-width="0.8"/>
<circle cx="248.82" cy="203" r="2.5" fill="#fff" stroke="#444" stroke-width="0.8"/>
<circle cx="259.48" cy="203.5" r="2.5" fill="#fff" stroke="#444" stroke-width="0.8"/>
<circle cx="270.14" cy="195.2" r="2.5" fill="#fff" stroke="#444" stroke-width="0.8"/>
<circle cx="280.8" cy="198.2" r="2.5" fill="#fff" stroke="#444" stroke-width="0.8"/>
<circle cx="291.46" cy="200" r="2.5" fill="#fff" stroke="#444" stroke-width="0.8"/>
<circle cx="302.12" cy="202.9" r="2.5" fill="#fff" stroke="#444" stroke-width="0.8"/>
<circle cx="312.78" cy="199.8" r="2.5" fill="#fff" stroke="#444" stroke-width="0.8"/>
<circle cx="323.44" cy="204" r="2.5" fill="#fff" stroke="#444" stroke-width="0.8"/>
<circle cx="334.1" cy="200.5" r="2.5" fill="#fff" stroke="#444" stroke-width="0.8"/>
<circle cx="344.76" cy="204.5" r="2.5" fill="#fff" stroke="#444" stroke-width="0.8"/>
<text x="366.9" y="200.9" font-size="8.55" text-anchor="start" font-weight="normal" fill="#111" ><tspan font-style="italic">µ</tspan>l of</text>
<text x="366.9" y="210.9" font-size="8.55" text-anchor="start" font-weight="normal" fill="#111" >3x conc.</text>
<text x="366.9" y="221.0" font-size="8.55" text-anchor="start" font-weight="normal" fill="#111" >fractions</text>
<line x1="364.8" y1="229.0" x2="374" y2="229.0" stroke="#666" stroke-width="0.8"/>
<circle cx="368.6" cy="229.0" r="2.3" fill="#000" stroke="#000" stroke-width="0.8"/>
<text x="376.4" y="231.5" font-size="8.55" text-anchor="start" font-weight="normal" fill="#111" >25</text>
<line x1="364.8" y1="239.13" x2="374" y2="239.13" stroke="#666" stroke-width="0.8"/>
<circle cx="368.6" cy="239.13" r="2.3" fill="#a9a9a9" stroke="#555" stroke-width="0.8"/>
<text x="376.4" y="241.63" font-size="8.55" text-anchor="start" font-weight="normal" fill="#111" >8.3</text>
<line x1="364.8" y1="249.26" x2="374" y2="249.26" stroke="#666" stroke-width="0.8"/>
<circle cx="368.6" cy="249.26" r="2.3" fill="#fff" stroke="#555" stroke-width="0.8"/>
<text x="376.4" y="251.76" font-size="8.55" text-anchor="start" font-weight="normal" fill="#111" >2.8</text>
<line x1="364.8" y1="259.39" x2="374" y2="259.39" stroke="#666" stroke-width="0.8"/>
<circle cx="368.6" cy="259.39" r="2.3" fill="#fff" stroke="#555" stroke-width="0.8"/>
<text x="376.4" y="261.89" font-size="8.55" text-anchor="start" font-weight="normal" fill="#111" >0.9</text>
</svg></body></html>
